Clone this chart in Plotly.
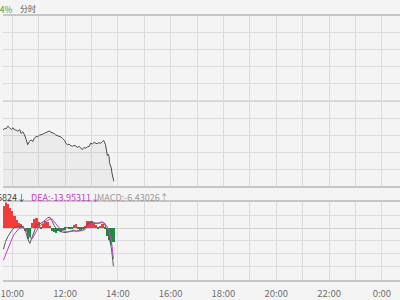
import plotly.graph_objects as go

# ---------------- data ----------------
prev_close = 100.0

price_times = ["09:39", "09:43", "09:46", "09:50", "09:54", "09:58", "10:02", "10:05", "10:09", "10:13",
               "10:17", "10:20", "10:24", "10:28", "10:32", "10:35", "10:39", "10:43", "10:47", "10:50",
               "10:54", "10:58", "11:02", "11:05", "11:09", "11:13", "11:17", "11:21", "11:24", "11:28",
               "11:32", "11:36", "11:39", "11:43", "11:47", "11:51", "11:54", "11:59", "12:02", "12:06",
               "12:09", "12:12", "12:17", "12:20", "12:24", "12:28", "12:32", "12:35", "12:39", "12:43",
               "12:46", "12:51", "12:55", "12:58", "13:02", "13:06", "13:09", "13:13", "13:17", "13:21",
               "13:25", "13:28", "13:32", "13:34", "13:36", "13:38", "13:40", "13:41", "13:43", "13:45",
               "13:47", "13:49", "13:51"]
pct_change = [-0.337, -0.322, -0.326, -0.295, -0.314, -0.334, -0.314, -0.337, -0.341, -0.354,
              -0.334, -0.379, -0.360, -0.398, -0.455, -0.512, -0.474, -0.457, -0.474, -0.437,
              -0.417, -0.417, -0.400, -0.398, -0.389, -0.379, -0.366, -0.360, -0.352, -0.366,
              -0.371, -0.383, -0.398, -0.406, -0.409, -0.423, -0.437, -0.463, -0.497, -0.514,
              -0.503, -0.520, -0.531, -0.520, -0.526, -0.543, -0.531, -0.554, -0.569, -0.543,
              -0.554, -0.537, -0.531, -0.494, -0.503, -0.486, -0.497, -0.501, -0.488, -0.494,
              -0.474, -0.463, -0.512, -0.608, -0.638, -0.623, -0.651, -0.722, -0.760, -0.783,
              -0.855, -0.912, -0.940]

macd_times = ["09:40", "09:45", "09:50", "09:55", "10:00", "10:05", "10:10", "10:15", "10:20", "10:25",
              "10:30", "10:35", "10:40", "10:45", "10:50", "10:55", "11:00", "11:05", "11:10", "11:15",
              "11:20", "11:25", "11:30", "11:35", "11:40", "11:45", "11:50", "11:55", "12:00", "12:05",
              "12:10", "12:15", "12:20", "12:25", "12:30", "12:35", "12:40", "12:45", "12:50", "12:55",
              "13:00", "13:05", "13:10", "13:15", "13:20", "13:25", "13:30", "13:35", "13:40", "13:45",
              "13:50"]
macd_hist = [9.8, 11.6, 10.7, 9.0, 7.6, 5.4, 3.3, 1.9, 1.5, 0.6,
             -1.6, -5.1, -4.2, 1.9, 4.1, 4.6, 2.4, -0.7, 1.5, 2.8,
             2.6, 0.6, -1.6, -2.0, -2.2, -1.6, -1.8, -1.1, -0.9, 0.3,
             -0.7, -0.7, 1.3, 1.5, -0.5, -0.9, -0.3, 0.6, 2.8, 3.0,
             2.8, 1.9, 1.0, -0.7, 0.4, 1.5, -0.7, -3.8, -5.5, -7.7,
             -6.43026]
dif = [-9.5, -6.0, -3.8, -2.0, -0.7, 0.2, 0.6, 0.8, 0.8, 0.4,
       -1.1, -4.7, -6.9, -4.2, -0.7, 1.3, 1.7, 2.2, 2.8, 3.7,
       4.6, 5.0, 3.5, 1.3, -0.3, -0.9, -1.6, -1.8, -2.0, -1.8,
       -1.6, -1.1, -0.9, -1.4, -1.4, -1.1, -0.9, 0.0, 1.7, 2.4,
       2.6, 2.4, 2.2, 2.2, 2.6, 2.8, 1.9, -1.1, -4.2, -8.6,
       -17.16824]
dea = [-14.5, -11.8, -9.2, -6.6, -4.5, -2.6, -1.2, -0.3, 0.1, 0.2,
       -0.3, -2.0, -4.2, -4.9, -3.2, -1.2, 0.4, 1.4, 2.0, 2.6,
       3.3, 4.1, 4.2, 3.0, 1.4, 0.2, -0.6, -1.1, -1.5, -1.7,
       -1.6, -1.4, -1.2, -1.2, -1.3, -1.2, -1.1, -0.6, 0.4, 1.3,
       1.9, 2.1, 2.2, 2.2, 2.3, 2.5, 2.3, 0.9, -1.4, -5.0,
       -13.95311]

hour_ticks = list(range(10, 25))            # hours shown as grid lines
label_every = 2                             # label every second hour

# ---------------- helpers ----------------
def to_min(s):
    h, m = s.split(":")
    return int(h) * 60 + int(m)

px = [to_min(t) for t in price_times]
price = [prev_close * (1 + p / 100.0) for p in pct_change]
mx = [to_min(t) for t in macd_times]

tickvals = [h * 60 for h in hour_ticks]
ticktext = [(f"{h % 24}:00" if (h - 10) % label_every == 0 else "") for h in hour_ticks]

x_range = [579, 1481.2]
FONT = "Noto Sans CJK SC"
BG = "#f4f4f4"
GRID = "#dcdcdc"
LINE = "#c6c6c6"

fig = go.Figure()

fig.add_trace(go.Scatter(
    x=px, y=price, mode="lines",
    line=dict(color="#4a4a4a", width=1),
    fill="tozeroy", fillcolor="rgba(0,0,0,0.035)",
    xaxis="x", yaxis="y", hoverinfo="skip", showlegend=False))

fig.add_trace(go.Bar(
    x=mx, y=macd_hist, width=5,
    marker=dict(color=["#f23b3b" if v >= 0 else "#1e8c3a" for v in macd_hist], line=dict(width=0)),
    xaxis="x2", yaxis="y2", hoverinfo="skip", showlegend=False))

fig.add_trace(go.Scatter(
    x=mx, y=dif, mode="lines", line=dict(color="#5a5a5a", width=1),
    xaxis="x2", yaxis="y2", hoverinfo="skip", showlegend=False))
fig.add_trace(go.Scatter(
    x=mx, y=dea, mode="lines", line=dict(color="#c040c8", width=1),
    xaxis="x2", yaxis="y2", hoverinfo="skip", showlegend=False))

axis_common = dict(range=x_range, tickvals=tickvals, showgrid=True, gridcolor=GRID, gridwidth=1,
                   zeroline=False, showline=True, mirror=True, linecolor=LINE, linewidth=1.5,
                   ticks="", fixedrange=True)

fig.update_layout(
    width=400, height=300,
    margin=dict(l=0, r=0, t=0, b=0),
    paper_bgcolor=BG, plot_bgcolor=BG,
    bargap=0,
    font=dict(family=FONT, size=9, color="#666"),
    xaxis=dict(domain=[0, 1], anchor="y", showticklabels=False, **axis_common),
    yaxis=dict(domain=[(300 - 191.5) / 300, (300 - 16) / 300], range=[99.0, 101.0],
               tick0=99.0, dtick=0.2, showgrid=True, gridcolor=GRID, zeroline=False,
               showticklabels=False, showline=False, fixedrange=True),
    xaxis2=dict(domain=[0, 1], anchor="y2", ticktext=ticktext, showticklabels=True,
                ticklabeloverflow="allow", ticklabelstandoff=4,
                tickfont=dict(family=FONT, size=9.5, color="#707070"), **axis_common),
    yaxis2=dict(domain=[(300 - 287.2) / 300, (300 - 208) / 300], range=[-23.2, 11.6],
                tick0=0, dtick=5.8, showgrid=True, gridcolor=GRID, zeroline=True,
                zerolinecolor="#d0d0d0", zerolinewidth=1, showticklabels=False,
                showline=False, fixedrange=True),
    shapes=[dict(type="line", xref="paper", x0=0, x1=1, yref="y", y0=prev_close, y1=prev_close,
                 line=dict(color=LINE, width=1.5), layer="below")],
)

ann = [
    dict(text=f"{pct_change[-1]:.2f}%", x=10.8 / 400, xanchor="right", y=1 - 9 / 300,
         font=dict(size=8.5, color="#3a9a52")),
    dict(text="分时", x=15.5 / 400, xanchor="left", y=1 - 9 / 300,
         font=dict(size=8, color="#555")),
    dict(text=f"DIF:{dif[-1]:.5f}↓", x=25.0 / 400, xanchor="right", y=1 - 202.5 / 300,
         font=dict(size=9, color="#444")),
    dict(text=f"DEA:{dea[-1]:.5f}↓", x=26.0 / 400, xanchor="left", y=1 - 202.5 / 300,
         font=dict(size=9, color="#c040c8")),
    dict(text=f"MACD:{macd_hist[-1]:.5f}↑", x=92.5 / 400, xanchor="left", y=1 - 202.5 / 300,
         font=dict(size=9, color="#999")),
]
for a in ann:
    fig.add_annotation(xref="paper", yref="paper", yanchor="middle", showarrow=False,
                       font_family=FONT, **{k: v for k, v in a.items()})

fig.write_html("out.html")
